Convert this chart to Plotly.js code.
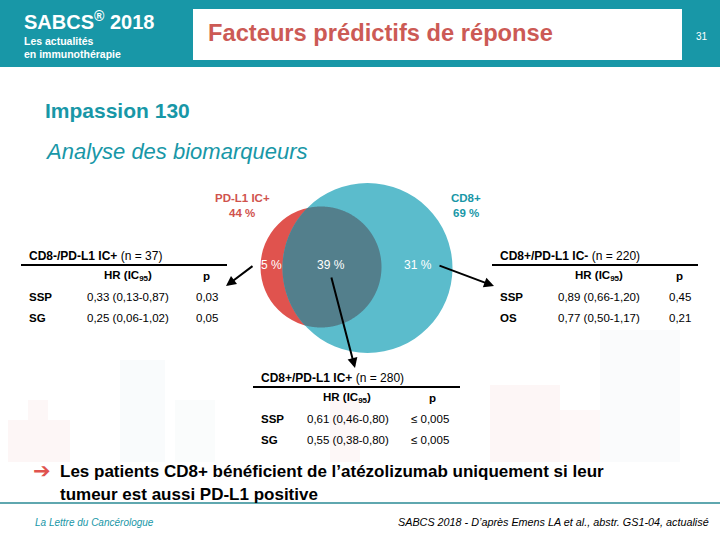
<!DOCTYPE html>
<html>
<head>
<meta charset="utf-8">
<script src="https://cdn.plot.ly/plotly-3.0.1.min.js"></script>
<style>html,body{margin:0;padding:0;background:#fff}#chart{width:720px;height:540px}</style>
</head>
<body>
<div id="chart"></div>
<script>
// ---- data ----
const vennSets = ['PD-L1 IC+', 'CD8+'];
const vennSetPct = [44, 69];
const regionPct = [5, 39, 31];           // PD-L1 only, both, CD8 only

const tableTitles = ['CD8-/PD-L1 IC+', 'CD8+/PD-L1 IC-', 'CD8+/PD-L1 IC+'];
const tableN = [37, 220, 280];
const endpointsLeft = ['SSP', 'SG'];
const hrLeft = ['0,33 (0,13-0,87)', '0,25 (0,06-1,02)'];
const pLeft = ['0,03', '0,05'];
const endpointsRight = ['SSP', 'OS'];
const hrRight = ['0,89 (0,66-1,20)', '0,77 (0,50-1,17)'];
const pRight = ['0,45', '0,21'];
const endpointsBottom = ['SSP', 'SG'];
const hrBottom = ['0,61 (0,46-0,80)', '0,55 (0,38-0,80)'];
const pBottom = ['≤ 0,005', '≤ 0,005'];

// ---- style / layout constants ----
const FONT = 'Liberation Sans, Arial, sans-serif';
const TEAL = '#1897a7';
const RED = '#cc5a55';
const RED_C = '#e0534e', BLUE_C = '#5bbccc', DARK_C = '#537f8c';
const redC = {x: 321, y: 267, r: 60.5};
const blueC = {x: 367.5, y: 268, r: 85};

const ann = [];
const shapes = [];
function txt(x, y, text, o) {
  ann.push(Object.assign({x, y, xref: 'x', yref: 'y', text, showarrow: false,
    xanchor: 'left', yanchor: 'middle',
    font: {family: FONT, size: 11, color: '#000'}}, o || {}));
}
function line(x0, y0, x1, y1, color, w) {
  shapes.push({type: 'line', xref: 'x', yref: 'y', x0, y0, x1, y1, line: {color, width: w}});
}
function rect(x0, y0, x1, y1, color) {
  shapes.push({type: 'rect', xref: 'x', yref: 'y', x0, x1, y0, y1, fillcolor: color, line: {width: 0}, layer: 'below'});
}

// very faint background skyline watermark
rect(8, 420, 70, 462, '#fdf6f6');
rect(28, 400, 48, 420, '#fdf7f7');
rect(120, 360, 165, 462, '#f9fbfc');
rect(175, 400, 215, 462, '#fafcfc');
rect(330, 400, 360, 462, '#fdf7f7');
rect(490, 385, 560, 462, '#fdf6f6');
rect(560, 410, 600, 462, '#fef8f8');
rect(600, 330, 680, 462, '#fafbfc');

// header
rect(0, 0, 720, 67, TEAL);
rect(193, 9, 682, 60, '#fff');
txt(22, 20, '<b>SABCS<sup>®</sup> 2018</b>', {font: {family: FONT, size: 20, color: '#fff'}});
txt(22, 41, '<b>Les actualités</b>', {font: {family: FONT, size: 10.5, color: '#fff'}});
txt(22, 54, '<b>en immunothérapie</b>', {font: {family: FONT, size: 10.5, color: '#fff'}});
txt(206, 33, '<b>Facteurs prédictifs de réponse</b>', {font: {family: FONT, size: 23.7, color: RED}});
txt(694, 36, '31', {font: {family: FONT, size: 10, color: '#fff'}});

// subtitles
txt(43, 110, '<b>Impassion 130</b>', {font: {family: FONT, size: 21, color: TEAL}});
txt(43, 151, '<i>Analyse des biomarqueurs</i>', {font: {family: FONT, size: 22, color: TEAL}});

// venn circles
shapes.push({type: 'circle', xref: 'x', yref: 'y', x0: redC.x - redC.r, x1: redC.x + redC.r, y0: redC.y - redC.r, y1: redC.y + redC.r, fillcolor: RED_C, line: {width: 0}});
shapes.push({type: 'circle', xref: 'x', yref: 'y', x0: blueC.x - blueC.r, x1: blueC.x + blueC.r, y0: blueC.y - blueC.r, y1: blueC.y + blueC.r, fillcolor: BLUE_C, line: {width: 0}});

// lens (intersection) polygon
const pts = [];
const N = 720;
for (let i = 0; i < N; i++) {
  const t = 2 * Math.PI * i / N;
  const ax = redC.x + redC.r * Math.cos(t), ay = redC.y + redC.r * Math.sin(t);
  if (Math.hypot(ax - blueC.x, ay - blueC.y) <= blueC.r) pts.push([ax, ay]);
  const bx = blueC.x + blueC.r * Math.cos(t), by = blueC.y + blueC.r * Math.sin(t);
  if (Math.hypot(bx - redC.x, by - redC.y) <= redC.r) pts.push([bx, by]);
}
const cx = pts.reduce((s, p) => s + p[0], 0) / pts.length;
const cy = pts.reduce((s, p) => s + p[1], 0) / pts.length;
pts.sort((a, b) => Math.atan2(a[1] - cy, a[0] - cx) - Math.atan2(b[1] - cy, b[0] - cx));
const path = 'M' + pts.map(p => p[0].toFixed(2) + ',' + p[1].toFixed(2)).join('L') + 'Z';
shapes.push({type: 'path', xref: 'x', yref: 'y', path, fillcolor: DARK_C, line: {width: 0}});

// venn labels
const redLab = {family: FONT, size: 11.5, color: '#d0524d'};
const tealLab = {family: FONT, size: 11.5, color: TEAL};
txt(242, 198, '<b>' + vennSets[0] + '</b>', {xanchor: 'center', font: redLab});
txt(242, 213, '<b>' + vennSetPct[0] + ' %</b>', {xanchor: 'center', font: redLab});
txt(466, 198, '<b>' + vennSets[1] + '</b>', {xanchor: 'center', font: tealLab});
txt(466, 213, '<b>' + vennSetPct[1] + ' %</b>', {xanchor: 'center', font: tealLab});
const wfont = {family: FONT, size: 12, color: '#fff'};
txt(271, 265, regionPct[0] + ' %', {xanchor: 'center', font: wfont});
txt(331, 265, regionPct[1] + ' %', {xanchor: 'center', font: wfont});
txt(418, 265, regionPct[2] + ' %', {xanchor: 'center', font: wfont});

// arrows
function arrow(x0, y0, x1, y1) {
  ann.push({x: x1, y: y1, ax: x0, ay: y0, xref: 'x', yref: 'y', axref: 'x', ayref: 'y',
    showarrow: true, arrowhead: 2, arrowsize: 1, arrowwidth: 2, arrowcolor: '#000', text: ''});
}
arrow(254, 265, 226, 286);
arrow(438, 265, 494, 286);
arrow(331, 276, 355, 368);

// tables
const tf = {family: FONT, size: 11.5, color: '#000'};
function table(x, y, lineX0, lineX1, title, n, eps, hrs, ps, hrX, pX, valX, pvX) {
  txt(x, y, '<b>' + title + '</b> (n = ' + n + ')', {font: {family: FONT, size: 12, color: '#000'}});
  line(lineX0, y + 9, lineX1, y + 9, '#000', 2);
  txt(hrX, y + 20, '<b>HR (IC<sub>95</sub>)</b>', {font: tf});
  txt(pX, y + 20, '<b>p</b>', {font: tf});
  for (let i = 0; i < eps.length; i++) {
    const yy = y + 41 + 21 * i;
    txt(x, yy, '<b>' + eps[i] + '</b>', {font: tf});
    txt(valX, yy, hrs[i], {font: tf});
    txt(pvX, yy, ps[i], {font: tf});
  }
}
table(27, 256, 21, 227, tableTitles[0], tableN[0], endpointsLeft, hrLeft, pLeft, 102, 201, 85, 194);
table(498, 256, 492, 698, tableTitles[1], tableN[1], endpointsRight, hrRight, pRight, 573, 674, 556, 667);
table(259, 378, 253, 460, tableTitles[2], tableN[2], endpointsBottom, hrBottom, pBottom, 321, 427, 305, 409);

// conclusion
txt(31, 471, '<b>➔</b>', {font: {family: 'DejaVu Sans', size: 21, color: '#e0534e'}});
txt(58, 471, '<b>Les patients CD8+ bénéficient de l’atézolizumab uniquement si leur</b>', {font: {family: FONT, size: 17, color: '#000'}});
txt(58, 494, '<b>tumeur est aussi PD-L1 positive</b>', {font: {family: FONT, size: 17, color: '#000'}});
line(0, 503, 720, 503, '#2a8a95', 1.5);

// footer
txt(33, 522, '<i>La Lettre du Cancérologue</i>', {font: {family: FONT, size: 10, color: TEAL}});
txt(711, 522, '<i>SABCS 2018 - D’après Emens LA et al., abstr. GS1-04, actualisé</i>', {xanchor: 'right', font: {family: FONT, size: 10.8, color: '#000'}});

const layout = {
  width: 720, height: 540,
  margin: {l: 0, r: 0, t: 0, b: 0},
  paper_bgcolor: '#fff', plot_bgcolor: 'rgba(0,0,0,0)',
  xaxis: {range: [0, 720], visible: false, fixedrange: true},
  yaxis: {range: [540, 0], visible: false, fixedrange: true},
  showlegend: false,
  shapes, annotations: ann
};
Plotly.newPlot('chart', [{x: [], y: [], type: 'scatter', hoverinfo: 'skip'}], layout, {staticPlot: true, displayModeBar: false});
</script>
</body>
</html>
